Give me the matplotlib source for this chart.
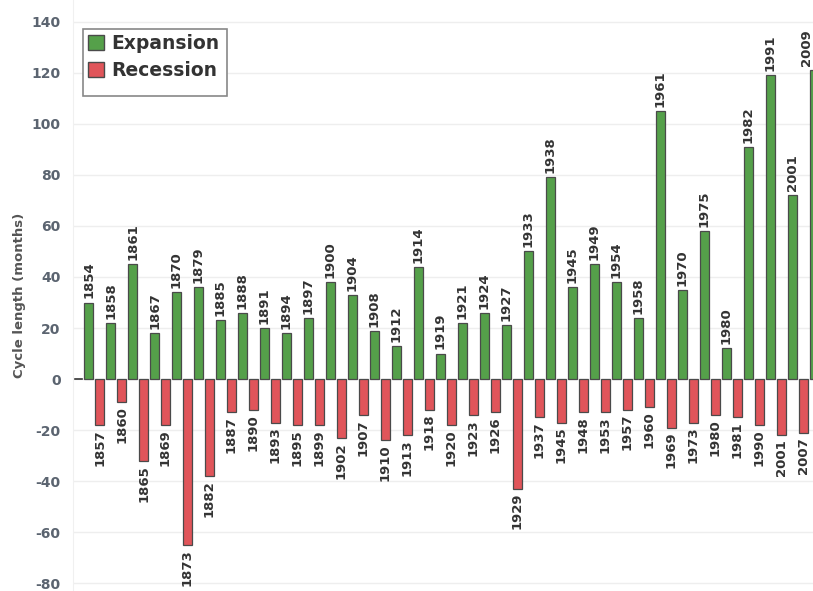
import numpy as np
import matplotlib.pyplot as plt
from matplotlib.patches import Patch, Rectangle

# --- Datos (meses) ---
exp_years = ["1854", "1858", "1861", "1867", "1870", "1879", "1885", "1888", "1891",
             "1894", "1897", "1900", "1904", "1908", "1912", "1914", "1919", "1921",
             "1924", "1927", "1933", "1938", "1945", "1949", "1954", "1958", "1961",
             "1970", "1975", "1980", "1982", "1991", "2001", "2009"]
exp_months = [30, 22, 45, 18, 34, 36, 23, 26, 20,
              18, 24, 38, 33, 19, 13, 44, 10, 22,
              26, 21, 50, 79, 36, 45, 38, 24, 105,
              35, 58, 12, 91, 119, 72, 121]

rec_years = ["1857", "1860", "1865", "1869", "1873", "1882", "1887", "1890", "1893",
             "1895", "1899", "1902", "1907", "1910", "1913", "1918", "1920", "1923",
             "1926", "1929", "1937", "1945", "1948", "1953", "1957", "1960", "1969",
             "1973", "1980", "1981", "1990", "2001", "2007"]
rec_months = [18, 9, 32, 18, 65, 38, 13, 12, 17,
              18, 18, 23, 14, 24, 22, 12, 18, 14,
              13, 43, 15, 17, 13, 13, 12, 11, 19,
              17, 14, 15, 18, 22, 21]

GREEN = "#55a04a"
RED = "#e0555a"
EDGE = "#4a4a4a"
TEXT = "#333333"
TICK = "#5b6470"

W, H = 813, 591
X_MAX = 65.9
fig = plt.figure(figsize=(W / 100, H / 100), dpi=100)
ax = fig.add_axes([73 / W, 0, 1 - 73 / W, 1])

x_exp = np.arange(len(exp_months)) * 2
x_rec = np.arange(len(rec_months)) * 2 + 1

ax.bar(x_exp, exp_months, width=0.8, color=GREEN, edgecolor=EDGE, linewidth=0.9, zorder=3)
ax.bar(x_rec, [-v for v in rec_months], width=0.8, color=RED, edgecolor=EDGE, linewidth=0.9, zorder=3)

for x, v, y in zip(x_exp, exp_months, exp_years):
    # la última etiqueta queda pegada al borde derecho, como en el original
    if x + 0.45 > X_MAX:
        ax.text(X_MAX, v + 1.6, y, rotation=90, ha="right", va="bottom",
                fontsize=9.5, fontweight="bold", color=TEXT, zorder=4)
    else:
        ax.text(x, v + 1.6, y, rotation=90, ha="center", va="bottom",
                fontsize=9.5, fontweight="bold", color=TEXT, zorder=4)
for x, v, y in zip(x_rec, rec_months, rec_years):
    ax.text(x, -v - 1.6, y, rotation=90, ha="center", va="top",
            fontsize=9.5, fontweight="bold", color=TEXT, zorder=4)

ax.set_xlim(-1.42, X_MAX)
ax.set_ylim(-83, 148.5)
ax.set_yticks(range(-80, 141, 20))
ax.set_yticklabels([str(t) for t in range(-80, 141, 20)])
ax.tick_params(axis="y", length=0, pad=9, labelsize=10, labelcolor=TICK)
for lbl in ax.get_yticklabels():
    lbl.set_fontweight("bold")
ax.set_xticks([])
ax.grid(axis="y", color="#eeeeee", linewidth=1, zorder=0)

# pequeña marca en cero
ax.plot([-1.25, -0.6], [0, 0], color="#333333", linewidth=1.2, zorder=2, clip_on=False)

for s in ["top", "right", "bottom"]:
    ax.spines[s].set_visible(False)
ax.spines["left"].set_color("#f0f0f0")

ax.set_ylabel("Cycle length (months)", fontsize=9.5, fontweight="bold", color="#555555", labelpad=4)

# leyenda sin marco + marco dibujado aparte (deja espacio vacío abajo)
handles = [Patch(facecolor=GREEN, edgecolor=EDGE, label="Expansion"),
           Patch(facecolor=RED, edgecolor=EDGE, label="Recession")]
leg = ax.legend(handles=handles, loc="upper left",
                bbox_to_anchor=((88 - 73) / (W - 73), 1 - 34 / H),
                fontsize=13.5, frameon=False, borderpad=0,
                handlelength=0.85, handleheight=0.85, handletextpad=0.4, labelspacing=0.45,
                borderaxespad=0)
for t in leg.get_texts():
    t.set_fontweight("bold")
    t.set_color(TEXT)
leg.set_zorder(7)

marco = Rectangle((83 / W, 1 - 96 / H), (227 - 83) / W, (96 - 29) / H,
                  transform=fig.transFigure, facecolor="white",
                  edgecolor="#888888", linewidth=1.2, zorder=6, clip_on=False)
ax.add_patch(marco)

fig.savefig("out.png", dpi=100)
